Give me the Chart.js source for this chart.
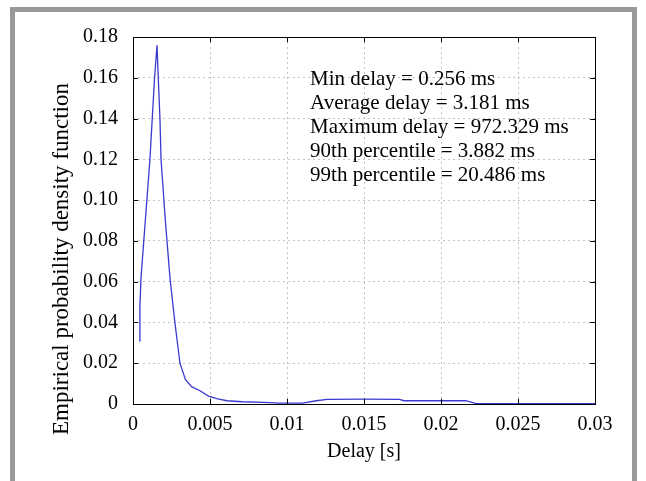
<!DOCTYPE html>
<html>
<head>
<meta charset="utf-8">
<script src="https://cdn.jsdelivr.net/npm/chart.js@4"></script>
<style>
  html, body { margin: 0; padding: 0; background: #fff; }
  #wrap { position: relative; width: 646px; height: 481px; overflow: hidden; }
  #frame {
    position: absolute; left: 10px; top: 7px; width: 627px; height: 500px;
    box-sizing: border-box; border: 5px solid #999; border-bottom: none;
    pointer-events: none;
  }
</style>
</head>
<body>
<div id="wrap">
  <canvas id="pdfChart" width="646" height="481"></canvas>
  <div id="frame"></div>
</div>
<script>
// delay in seconds, empirical pdf values
const delays = [0.00039, 0.00045, 0.00052, 0.0008, 0.0011, 0.00125, 0.0014, 0.00156,
    0.00164, 0.00175, 0.00182, 0.0021, 0.0024, 0.00272, 0.00305, 0.0034, 0.0038,
    0.00435, 0.0049, 0.0055, 0.0061, 0.0071, 0.0085, 0.0095, 0.011, 0.0119, 0.0126,
    0.015, 0.0173, 0.0176, 0.0216, 0.0223, 0.03];
const pdfValues = [0.031, 0.048, 0.062, 0.09, 0.12, 0.14, 0.16, 0.176,
    0.16, 0.14, 0.12, 0.09, 0.062, 0.04, 0.02, 0.012, 0.0085,
    0.0065, 0.0039, 0.0025, 0.0016, 0.0011, 0.0008, 0.0004, 0.0004, 0.0016, 0.0023,
    0.0024, 0.0023, 0.0016, 0.0016, 0.0002, 0.0002];

const xTickLabels = ['0', '0.005', '0.01', '0.015', '0.02', '0.025', '0.03'];
const yTickLabels = ['0', '0.02', '0.04', '0.06', '0.08', '0.10', '0.12', '0.14', '0.16', '0.18'];

const yTitle = 'Empirical probability density function';
const statsLines = [
    'Min delay = 0.256 ms',
    'Average delay = 3.181 ms',
    'Maximum delay = 972.329 ms',
    '90th percentile = 3.882 ms',
    '99th percentile = 20.486 ms'
];

const serif = 'Liberation Serif';

// box around the plot plus gnuplot-style inward ticks
const frameAndTicks = {
    id: 'frameAndTicks',
    afterDatasetsDraw(chart) {
        const { ctx, chartArea: a, scales: { x, y } } = chart;
        ctx.save();
        ctx.strokeStyle = '#000';
        ctx.lineWidth = 1;
        ctx.beginPath();
        x.ticks.forEach(t => {
            const px = Math.round(x.getPixelForValue(t.value)) + 0.5;
            ctx.moveTo(px, a.bottom); ctx.lineTo(px, a.bottom - 5);
            ctx.moveTo(px, a.top); ctx.lineTo(px, a.top + 5);
        });
        y.ticks.forEach(t => {
            const py = Math.round(y.getPixelForValue(t.value)) + 0.5;
            ctx.moveTo(a.left, py); ctx.lineTo(a.left + 5, py);
            ctx.moveTo(a.right, py); ctx.lineTo(a.right - 5, py);
        });
        ctx.stroke();
        ctx.strokeRect(Math.round(a.left) + 0.5, Math.round(a.top) + 0.5,
            Math.round(a.right - a.left), Math.round(a.bottom - a.top));
        ctx.restore();
    },
    afterDraw(chart) {
        const { ctx, scales: { x, y } } = chart;
        ctx.save();
        ctx.fillStyle = '#000';
        ctx.font = '21px "' + serif + '"';
        ctx.textAlign = 'left';
        ctx.textBaseline = 'alphabetic';
        const left = x.getPixelForValue(0.0115);
        const top = y.getPixelForValue(0.1565);
        statsLines.forEach((line, i) => ctx.fillText(line, left, top + i * 24));

        // y title sits a bit lower than the plot centre in the original
        ctx.translate(62, 259);
        ctx.rotate(-Math.PI / 2);
        ctx.font = '23px "' + serif + '"';
        ctx.textAlign = 'center';
        ctx.textBaseline = 'middle';
        ctx.fillText(yTitle, 0, 0);
        ctx.restore();
    }
};

new Chart(document.getElementById('pdfChart'), {
    type: 'line',
    data: {
        datasets: [{
            data: delays.map((d, i) => ({ x: d, y: pdfValues[i] })),
            borderColor: '#3a3ad0',
            borderWidth: 1.3,
            pointRadius: 0,
            tension: 0,
            fill: false
        }]
    },
    options: {
        responsive: false,
        animation: false,
        devicePixelRatio: 1,
        layout: { padding: { top: 37, right: 51, left: 0, bottom: 0 } },
        plugins: { legend: { display: false }, tooltip: { enabled: false } },
        scales: {
            x: {
                type: 'linear',
                min: 0,
                max: 0.03,
                afterFit: s => { s.height = 77; },
                ticks: {
                    stepSize: 0.005,
                    color: '#000',
                    padding: 9,
                    maxRotation: 0,
                    font: { family: serif, size: 20 },
                    callback: (v, i) => xTickLabels[i]
                },
                grid: { color: '#c4c4c4', drawTicks: false, lineWidth: 1 },
                border: { display: false, dash: [2, 3] },
                title: {
                    display: true,
                    text: 'Delay [s]',
                    color: '#000',
                    font: { family: serif, size: 20 },
                    padding: { top: 0, bottom: 17 }
                }
            },
            y: {
                min: 0,
                max: 0.18,
                afterFit: s => { s.width = 133; },
                ticks: {
                    stepSize: 0.02,
                    color: '#000',
                    padding: 15,
                    font: { family: serif, size: 20 },
                    callback: (v, i) => yTickLabels[i]
                },
                grid: { color: '#c4c4c4', drawTicks: false, lineWidth: 1 },
                border: { display: false, dash: [2, 3] },
                title: { display: false }
            }
        }
    },
    plugins: [frameAndTicks]
});
</script>
</body>
</html>
